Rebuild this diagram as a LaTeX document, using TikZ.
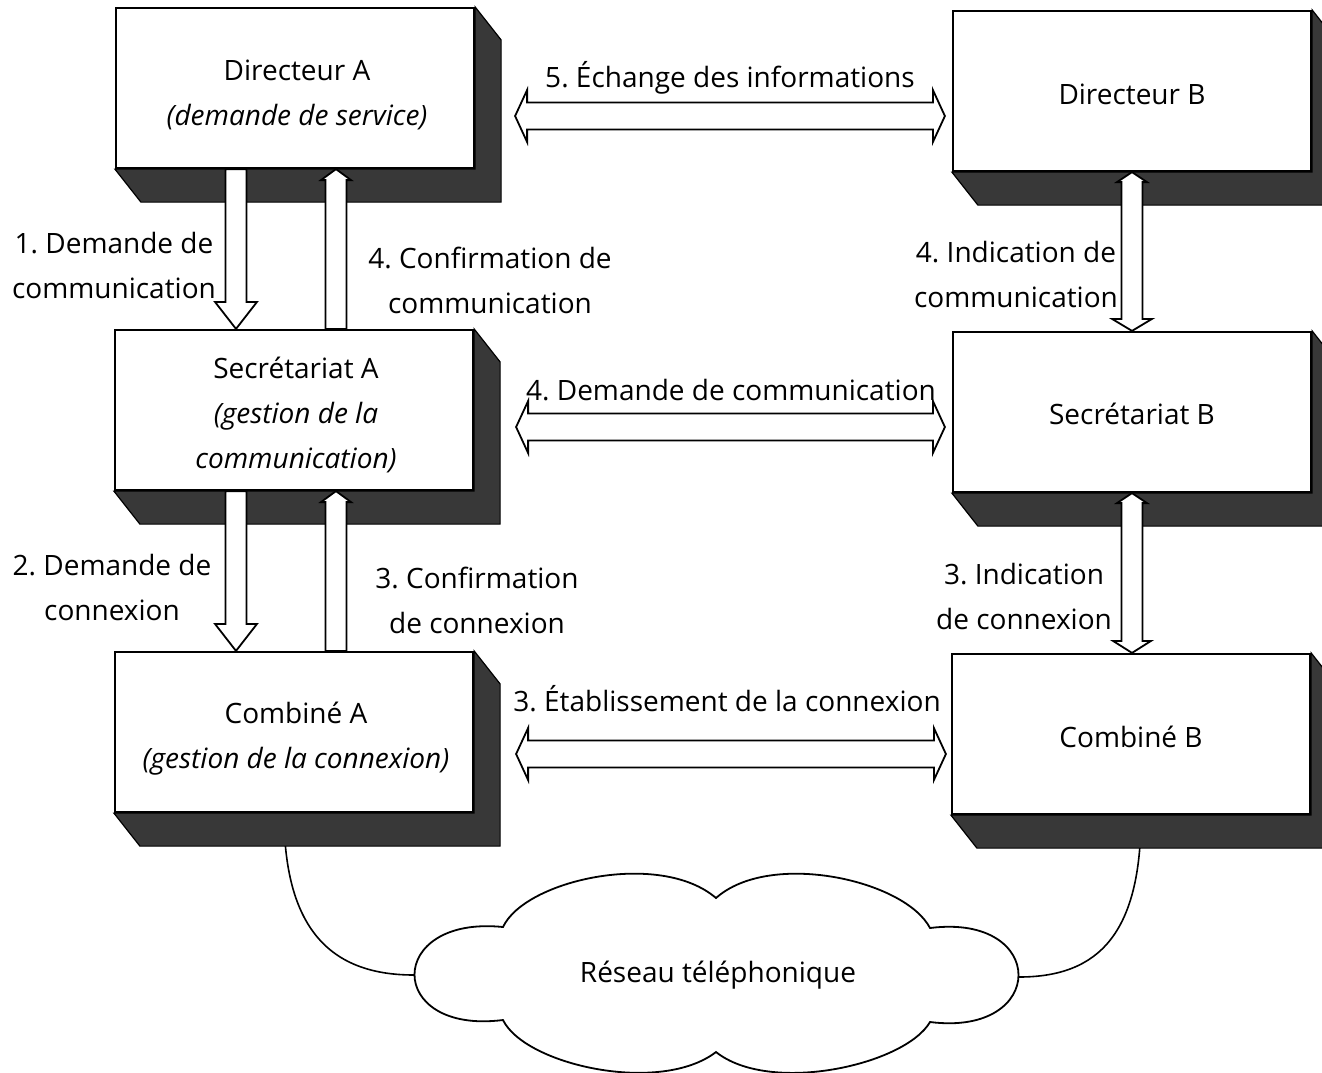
\documentclass[tikz,border=0pt]{standalone}
\usepackage{fontspec}
\setmainfont{Open Sans}
\usetikzlibrary{calc}
\frenchspacing

% one unit = one pixel of the final page, y grows downwards
\tikzset{
  box/.style={draw, line width=1.1pt, fill=white, minimum width=179pt,
    minimum height=80pt, inner sep=0pt},
  side3d/.style={fill=black!78, draw=black, line width=0.6pt, line join=miter},
  blk/.style={draw, fill=white, line width=0.9pt, line join=miter},
  lbl/.style={align=center, inner sep=0pt},
  wire/.style={line width=0.8pt},
  cloudline/.style={draw, fill=white, line width=0.9pt},
}

% dark extruded side and bottom faces of a box
\newcommand\boxdepth[1]{%
  \filldraw[side3d] (#1.north east) -- ++(26,33) -- ($(#1.south east)+(26,33)$)
    -- ($(#1.south west)+(26,33)$) -- (#1.south west) -- (#1.south east) -- cycle;}

% vertical hollow arrow: #1 top point, #2 bottom point,
% #3/#4 top head length/half width, #5/#6 bottom head length/half width, #7 shaft half width
\newcommand\vblock[7]{%
  \draw[blk] let \p1=(#1), \p2=(#2) in
    (\x1,\y1) -- (\x1+#4,\y1-#3) -- (\x1+#7,\y1-#3) -- (\x1+#7,\y2+#5)
    -- (\x1+#6,\y2+#5) -- (\x1,\y2) -- (\x1-#6,\y2+#5) -- (\x1-#7,\y2+#5)
    -- (\x1-#7,\y1-#3) -- (\x1-#4,\y1-#3) -- cycle;}

% horizontal hollow double arrow: #1 left tip, #2 right tip (x only),
% #3 head length, #4 head half width, #5 shaft half width
\newcommand\hblock[5]{%
  \draw[blk] let \p1=(#1), \p2=(#2) in
    (\x1,\y1) -- (\x1+#3,\y1+#4) -- (\x1+#3,\y1+#5) -- (\x2-#3,\y1+#5)
    -- (\x2-#3,\y1+#4) -- (\x2,\y1) -- (\x2-#3,\y1-#4) -- (\x2-#3,\y1-#5)
    -- (\x1+#3,\y1-#5) -- (\x1+#3,\y1-#4) -- cycle;}

\begin{document}
\begin{tikzpicture}[x=0.5pt, y=-0.5pt, font=\fontsize{14}{22.5}\selectfont]
  \useasboundingbox (0,0) rectangle (1322,1072);
  \fill[white] (0,0) rectangle (1322,1072);
  \clip (0,0) rectangle (1322,1072);

  % boxes
  \node[box] (dirA) at (295,88)  {};
  \node[box] (secA) at (294,410) {};
  \node[box] (comA) at (294,732) {};
  \node[box] (dirB) at (1132,91)  {};
  \node[box] (secB) at (1132,412) {};
  \node[box] (comB) at (1131,734) {};

  % box captions
  \node[lbl] (dirAt) at ($(dirA)+(2,6.5)$) {Directeur A\\\textit{(demande de service)}};
  \node[lbl] (secAt) at ($(secA)+(2,5)$) {Secrétariat A\\\textit{(gestion de la}\\\textit{communication)}};
  \node[lbl] (comAt) at ($(comA)+(2,7)$) {Combiné A\\\textit{(gestion de la connexion)}};
  \node[lbl] (dirBt) at ($(dirB)+(0,3)$) {Directeur B};
  \node[lbl] (secBt) at ($(secB)+(0,2)$) {Secrétariat B};
  \node[lbl] (comBt) at ($(comB)+(0,3)$) {Combiné B};

  % lines to the network
  \coordinate (netL) at (414,975);
  \coordinate (netR) at (1019,977);
  \coordinate (wA) at ($(comA.south)+(-10,0)$);
  \coordinate (wB) at ($(comB.south)+(10,0)$);
  \draw[wire] (wA) .. controls ($(wA)+(0,120)$) and ($(netL)+(-80,0)$) .. (netL);
  \draw[wire] (wB) .. controls ($(wB)+(0,118)$) and ($(netR)+(80,0)$) .. (netR);

  \foreach \b in {dirA,secA,comA,dirB,secB,comB} {\boxdepth{\b}}

  % columns of the vertical arrows
  \coordinate (cDown) at (236,0);
  \coordinate (cUp) at (336,0);
  \coordinate (cRight) at (1132,0);

  % side A, between layers
  \vblock{dirA.south -| cDown}{secA.north -| cDown}{0pt}{5.25pt}{13.5pt}{10.5pt}{5.25pt}
  \vblock{dirA.south -| cUp}{secA.north -| cUp}{5.5pt}{7.5pt}{0pt}{5.25pt}{5.25pt}
  \vblock{secA.south -| cDown}{comA.north -| cDown}{0pt}{5.25pt}{13.5pt}{10.5pt}{5.25pt}
  \vblock{secA.south -| cUp}{comA.north -| cUp}{5.5pt}{7.5pt}{0pt}{5.25pt}{5.25pt}

  % side B, between layers
  \vblock{dirB.south -| cRight}{secB.north -| cRight}{5pt}{7.5pt}{6pt}{10pt}{5.25pt}
  \vblock{secB.south -| cRight}{comB.north -| cRight}{5pt}{7.5pt}{6pt}{9.5pt}{5.25pt}

  % peer exchanges
  \hblock{$(dirA.east)+(40,28)$}{$(dirB.west)+(-7,0)$}{6pt}{13pt}{6.75pt}
  \hblock{$(secA.east)+(42,17)$}{$(secB.west)+(-7,0)$}{6pt}{13pt}{6.75pt}
  \hblock{$(comA.east)+(42,22)$}{$(comB.west)+(-5,0)$}{6pt}{13pt}{6.75pt}

  % labels
  \node[lbl] (l5) at (730,78) {5. Échange des informations};
  \node[lbl] (l4) at (731,390) {4. Demande de communication};
  \node[lbl] (l3) at (727,699) {3. Établissement de la connexion};
  \node[lbl] (l1a) at (114,265) {1. Demande de\\communication};
  \node[lbl] (l4a) at (490,280) {4. Confirmation de\\communication};
  \node[lbl] (l2a) at (112,587) {2. Demande de\\connexion};
  \node[lbl] (l3a) at (477,600) {3. Confirmation\\de connexion};
  \node[lbl] (l4b) at (1016,274) {4. Indication de\\communication};
  \node[lbl] (l3b) at (1024,596) {3. Indication\\de connexion};

  % telephone network cloud
  \path[cloudline] (503,927)
    .. controls (525,880) and (660,850) .. (716,898)
    .. controls (770,850) and (905,880) .. (930,928)
    .. controls (1048,913) and (1048,1037) .. (930,1022)
    .. controls (905,1065) and (770,1095) .. (716,1052)
    .. controls (660,1095) and (525,1065) .. (503,1020)
    .. controls (385,1035) and (385,915) .. cycle;
  \node[lbl] (net) at (718,975) {Réseau téléphonique};
\end{tikzpicture}
\end{document}
